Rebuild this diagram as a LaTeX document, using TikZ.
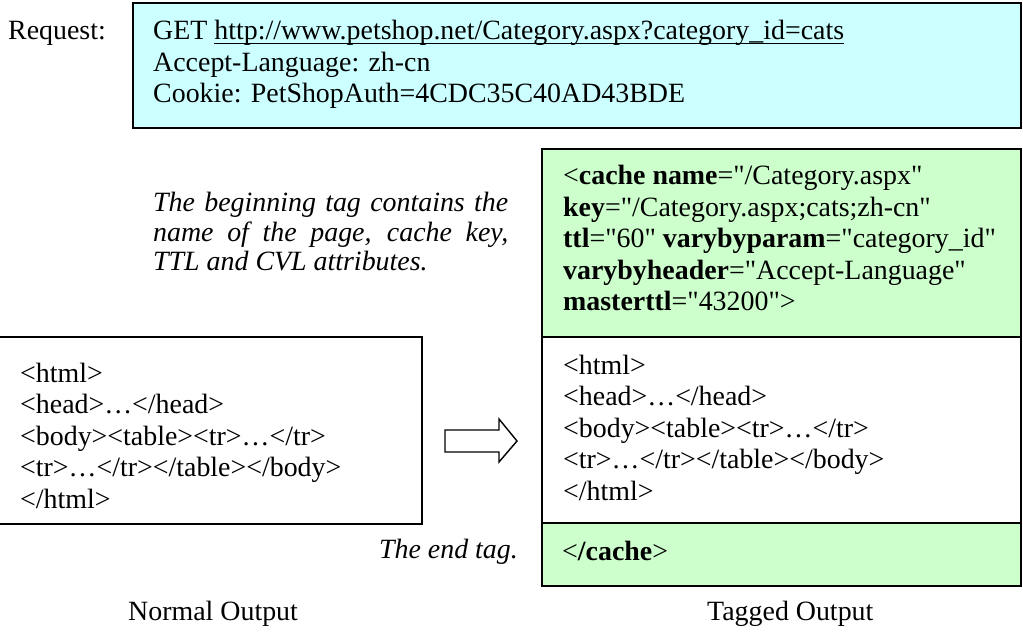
\documentclass[tikz,border=0pt]{standalone}
\usepackage{fontspec}
% a plain family keeps straight " quotes
\newfontfamily\plainserif{Liberation Serif}

\definecolor{reqfill}{HTML}{CCFFFF}
\definecolor{tagfill}{HTML}{CCFFCC}

% multi-line text block whose baseline is the first line
\newcommand{\txtlines}[1]{\parbox[t]{900pt}{\raggedright #1}}
% underlined link text
\newcommand{\linkline}[1]{\setbox0\hbox{#1}\rlap{\rule[-3.9pt]{\wd0}{1.3pt}}\box0}

\tikzset{
  box/.style={draw=black, line width=1.6pt},
  txt/.style={anchor=base west, inner sep=0pt, font=\plainserif\fontsize{27.9}{31.5}\selectfont},
  note/.style={anchor=base west, inner sep=0pt, font=\plainserif\fontsize{27.9}{29.5}\selectfont\itshape},
}

\begin{document}
\begin{tikzpicture}[x=1pt, y=-1pt]
\useasboundingbox (0,0) rectangle (1023,639);
\fill[white] (0,0) rectangle (1023,639);

% request box
\draw[box, line width=2pt, fill=reqfill] (133,3) rectangle (1020.7,128);
\node[txt] (reqlabel) at (8,40) {Request:};
\node[txt] (request) at (153,40) {\txtlines{GET \linkline{http://www.petshop.net/Category.aspx?category\_id=cats}\\
Accept-Language: zh-cn\\
Cookie: PetShopAuth=4CDC35C40AD43BDE}};

% normal output box
\draw[box] (-2,337) rectangle (421.7,524);
\node[txt] (normbody) at (20,382) {\txtlines{<html>\\
<head>…</head>\\
<body><table><tr>…</tr>\\
<tr>…</tr></table></body>\\
</html>}};

% tagged output: begin tag, body, end tag
\draw[box, fill=tagfill] (541.7,149) rectangle (1020.7,337);
\draw[box, fill=white] (541.7,337) rectangle (1020.7,523);
\draw[box, fill=tagfill] (541.7,523) rectangle (1020.7,586);

\node[txt] (begintag) at (563,185) {\txtlines{<\textbf{cache name}="/Category.aspx"\\
\textbf{key}="/Category.aspx;cats;zh-cn"\\
\textbf{ttl}="60" \textbf{varybyparam}="category\_id"\\
\textbf{varybyheader}="Accept-Language"\\
\textbf{masterttl}="43200">}};

\node[txt] (tagbody) at (563,374) {\txtlines{<html>\\
<head>…</head>\\
<body><table><tr>…</tr>\\
<tr>…</tr></table></body>\\
</html>}};

\node[txt] (endtag) at (562,560) {<\textbf{/cache}>};

% block arrow between the two outputs
\draw[line width=1.4pt, line join=miter, fill=white]
  (445,430) -- (499,430) -- (499,419) -- (517,441) -- (499,462) -- (499,452) -- (445,452) -- cycle;

% annotations
\node[note] (begnote) at (153,212) {\parbox[t]{355pt}{The beginning tag contains the\linebreak
name of the page, cache key,\linebreak
TTL and CVL attributes.}};
\node[note, anchor=base east] (endnote) at (518,558) {The end tag.};

% captions
\node[txt] (normlabel) at (128,620) {Normal Output};
\node[txt] (taglabel) at (707,620) {Tagged Output};
\end{tikzpicture}
\end{document}
